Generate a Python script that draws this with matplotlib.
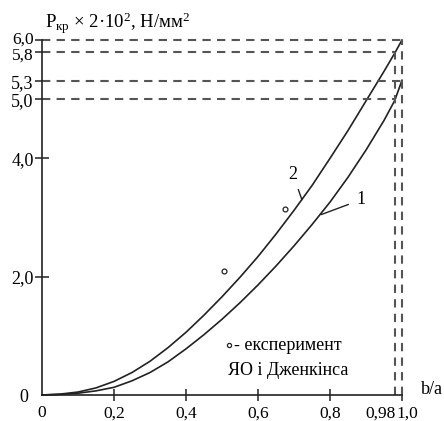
import matplotlib
matplotlib.use('Agg')
import matplotlib.pyplot as plt
import matplotlib.transforms as mtransforms

plt.rcParams['font.family'] = ['Liberation Serif', 'DejaVu Serif']
plt.rcParams['mathtext.fontset'] = 'custom'
plt.rcParams['mathtext.rm'] = 'Liberation Serif'
plt.rcParams['mathtext.it'] = 'Liberation Serif'

# data
ba = [0, 0.05, 0.1, 0.15, 0.2, 0.25, 0.3, 0.35, 0.4, 0.45, 0.5, 0.55,
      0.6, 0.65, 0.7, 0.75, 0.8, 0.85, 0.9, 0.95, 0.98, 1.0]
curve2 = [0, 0.015, 0.05, 0.12, 0.23, 0.38, 0.57, 0.80, 1.06, 1.35, 1.66, 1.99,
          2.34, 2.72, 3.12, 3.54, 4.0, 4.47, 4.97, 5.47, 5.78, 6.0]
curve1 = [0, 0.01, 0.03, 0.07, 0.13, 0.24, 0.38, 0.56, 0.78, 1.02, 1.28, 1.56,
          1.86, 2.18, 2.52, 2.88, 3.26, 3.68, 4.14, 4.64, 4.98, 5.32]
exp_x = [0.506, 0.675]
exp_y = [2.09, 3.15]

yticks = [2.0, 4.0, 5.0, 5.3, 5.8, 6.0]
ytick_labels = ['2,0', '4,0', '5,0', '5,3', '5,8', '6,0']
xticks = [0.2, 0.4, 0.6, 0.8, 1.0]
xtick_labels = ['0,2', '0,4', '0,6', '0,8', '1,0']

fig = plt.figure(figsize=(4.44, 4.21), dpi=100)
ax = fig.add_axes([42 / 444, 26 / 421, 360 / 444, 355 / 421])
ax.set_xlim(0, 1.0)
ax.set_ylim(0, 6.0)

line_c = '#222222'
dash_c = '#555555'

ax.plot(ba, curve2, color=line_c, lw=1.2, clip_on=False)
ax.plot(ba, curve1, color=line_c, lw=1.2, clip_on=False)
ax.plot(exp_x, exp_y, 'o', mfc='white', mec=line_c, ms=3.5, mew=0.9)

# dashed guide lines
dk = dict(color=dash_c, lw=1.5, dashes=(4, 3), clip_on=False)
ax.plot([0, 1.0], [6.0, 6.0], **dk)
ax.plot([0, 0.98], [5.8, 5.8], **dk)
ax.plot([0, 1.0], [5.3, 5.3], **dk)
ax.plot([0, 0.98], [5.0, 5.0], **dk)
ax.plot([0.98, 0.98], [0, 5.8], **dk)
ax.plot([1.0, 1.0], [0, 6.0], **dk)

for s in ['top', 'right']:
    ax.spines[s].set_visible(False)
for s in ['left', 'bottom']:
    ax.spines[s].set_color(line_c)
    ax.spines[s].set_linewidth(1.2)

ax.set_yticks(yticks, labels=ytick_labels)
ax.set_xticks(xticks, labels=xtick_labels)
ax.set_yticks([0], labels=['0'], minor=True)
ax.set_xticks([0, 0.98], labels=['0', '0,98'], minor=True)
ax.tick_params(axis='y', which='major', direction='inout', length=10,
               width=1.1, color=line_c, labelsize=13, pad=1)
ax.tick_params(axis='x', which='major', direction='inout', length=9,
               width=1.1, color=line_c, labelsize=12.5, pad=3)
ax.tick_params(axis='y', which='minor', length=0, labelsize=13, pad=10)
ax.tick_params(axis='x', which='minor', length=0, labelsize=12.5, pad=7.5)

# shift crowded labels like in the original
def nudge(lab, dx, dy):
    lab.set_transform(lab.get_transform() +
                      mtransforms.ScaledTranslation(dx / 100, dy / 100, fig.dpi_scale_trans))

nudge(ax.get_xticklabels(minor=True)[1], -14, 0)
nudge(ax.get_xticklabels()[-1], 5, 0)
ylabs = ax.get_yticklabels()
ylabs[-1].set_fontsize(12.5)
ylabs[-2].set_fontsize(12.5)
nudge(ylabs[-1], 0, 2)    # 6,0
nudge(ylabs[-2], 0, -2)   # 5,8

ax.text(0.008, 6.2, r'P$_{\mathregular{кр}}$ × 2·10$^{\mathregular{2}}$, Н/мм$^{\mathregular{2}}$',
        fontsize=13.5, va='baseline', ha='left')
ax.text(1.053, 0.1, 'b/a', fontsize=13, va='center', ha='left')

ax.annotate('2', xy=(0.722, 3.30), xytext=(0.697, 3.73), fontsize=13,
            ha='center', va='center',
            arrowprops=dict(arrowstyle='-', color=line_c, lw=1.0, shrinkA=3, shrinkB=0))
ax.annotate('1', xy=(0.776, 3.05), xytext=(0.886, 3.30), fontsize=13,
            ha='center', va='center',
            arrowprops=dict(arrowstyle='-', color=line_c, lw=1.0, shrinkA=4, shrinkB=0))

ax.plot([0.519], [0.845], 'o', mfc='white', mec=line_c, ms=3.0, mew=0.9)
ax.text(0.533, 0.845, '- експеримент', fontsize=13, va='center', ha='left')
ax.text(0.517, 0.42, 'ЯО і Дженкінса', fontsize=13, va='center', ha='left')

fig.savefig('out.png', dpi=100)
